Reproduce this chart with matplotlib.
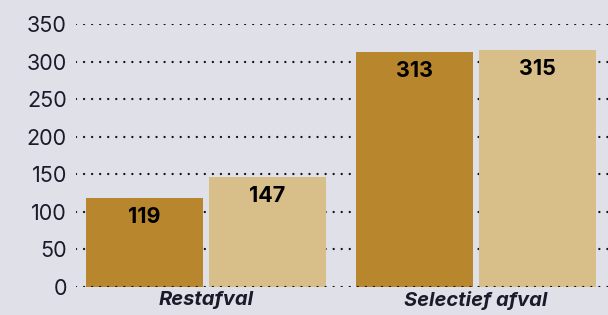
import matplotlib.pyplot as plt
import numpy as np

categories = ["Restafval", "Selectief afval"]
series_a = [119, 313]
series_b = [147, 315]
yticks = [0, 50, 100, 150, 200, 250, 300, 350]

bg = "#e0e1e8"
dark = "#b8862d"
light = "#d8be89"

plt.rcParams['font.family'] = ['Inter', 'DejaVu Sans']

fig = plt.figure(figsize=(6.08, 3.15), dpi=100, facecolor=bg)
ax = fig.add_axes([76/608, (315-287)/315, (608-76)/608, 263/315])
ax.set_facecolor(bg)

x = np.arange(len(categories))
w = 0.433
off = 0.228
ba = ax.bar(x - off, series_a, width=w, color=dark, zorder=2)
bb = ax.bar(x + off, series_b, width=w, color=light, zorder=2)

for bars, vals in ((ba, series_a), (bb, series_b)):
    for r, v in zip(bars, vals):
        ax.annotate(str(v), (r.get_x() + r.get_width()/2, v), xytext=(0, -6.5),
                    textcoords='offset points', ha='center', va='top',
                    fontsize=15.5, fontweight='bold', color='black', zorder=4)

for t in yticks:
    ax.axhline(t, color='#111111', linestyle=(0, (0.01, 3.4)), lw=1.7,
               zorder=3 if t == 0 else 1, dash_capstyle='round')

ax.set_xlim(-0.481, 1.489)
ax.set_ylim(0, 350)
ax.set_yticks(yticks)
ax.set_yticklabels([str(t) for t in yticks], fontsize=15.5, color='#1a1a2a')
ax.tick_params(axis='y', length=0, pad=6.5)
ax.set_xticks(x)
ax.set_xticklabels(categories, fontsize=14.5, fontweight='bold', fontstyle='italic', color='#1a1a2a')
ax.tick_params(axis='x', length=0, pad=3)
for s in ax.spines.values():
    s.set_visible(False)

fig.savefig("out.png", dpi=100, facecolor=bg)
